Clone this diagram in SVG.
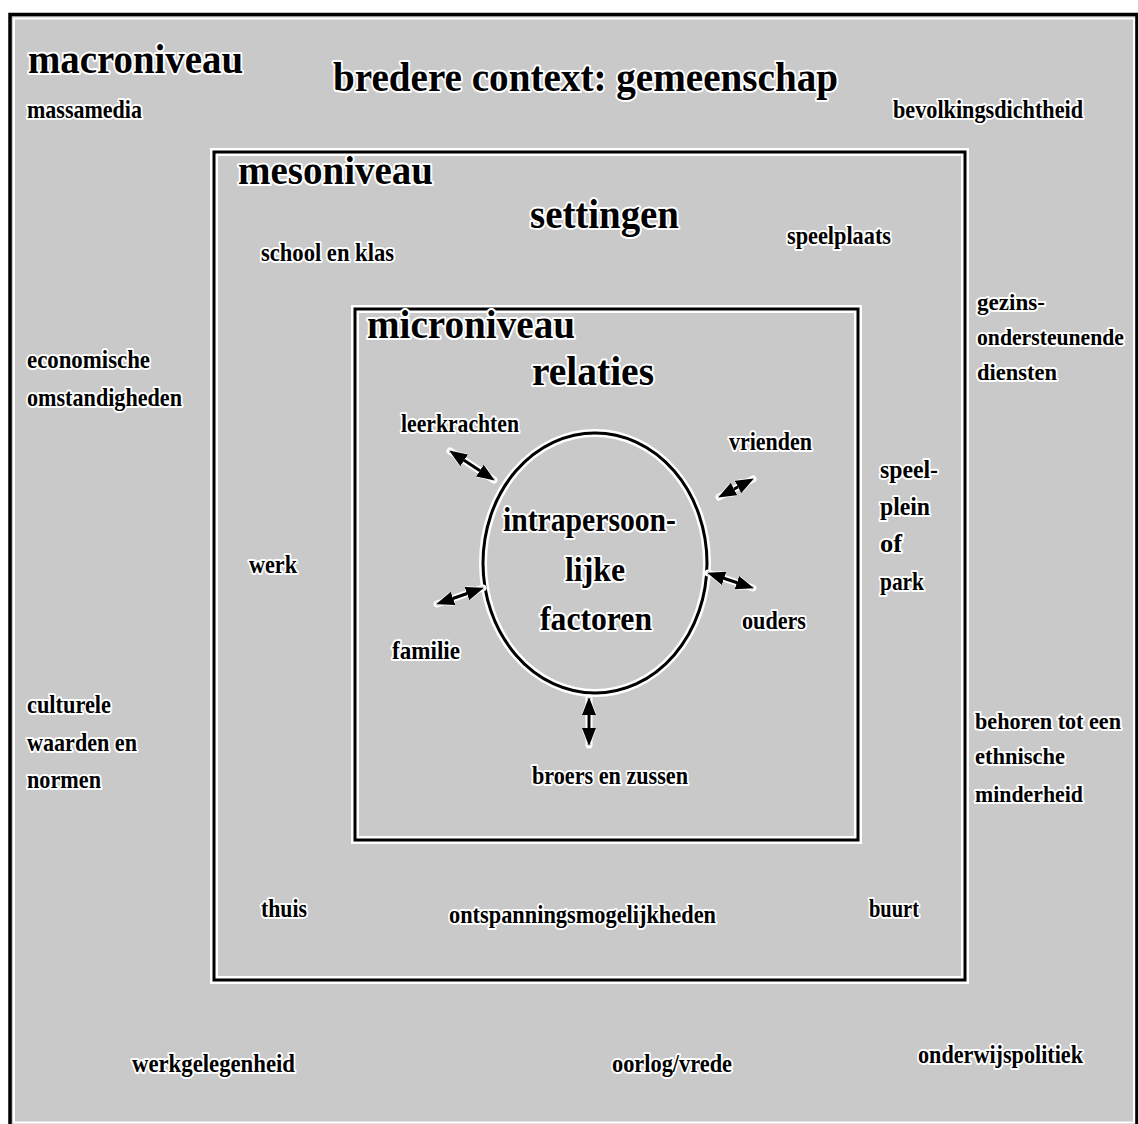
<svg xmlns="http://www.w3.org/2000/svg" width="1138" height="1124" viewBox="0 0 1138 1124">
<style>
text{font-family:"Liberation Serif","Times New Roman",serif;font-weight:bold;fill:#000;stroke:#fff;stroke-width:4;stroke-linejoin:round;paint-order:stroke}
.s{font-size:26px}
.r{font-size:23px}
.c{font-size:34px}
.m{font-size:40px}
.l{font-size:42px}
.frameW{fill:none;stroke:#fff;stroke-width:8}
.frameB{fill:none;stroke:#000;stroke-width:3}
.halo{stroke:#fff;stroke-width:7;stroke-linecap:round}
.arr{stroke:#000;stroke-width:3;marker-start:url(#ah);marker-end:url(#ah)}
</style>
<defs>
<marker id="ah" viewBox="0 0 18 14" refX="17" refY="7" markerWidth="18" markerHeight="14" markerUnits="userSpaceOnUse" orient="auto-start-reverse">
<path d="M0,0 L18,7 L0,14 z" fill="#000" stroke="#fff" stroke-width="1.5" paint-order="stroke"/>
</marker>
</defs>
<rect width="1138" height="1124" fill="#fff"/>
<g id="macro">
<rect x="10" y="14.5" width="1127" height="1112" fill="#c9c9c9" stroke="#000" stroke-width="3.5"/>
<rect x="14" y="18.5" width="1120" height="1104" fill="none" stroke="#fff" stroke-width="2"/>
<text class="l" x="28" y="73" textLength="215" lengthAdjust="spacingAndGlyphs">macroniveau</text>
<text class="l" x="333" y="91" textLength="505" lengthAdjust="spacingAndGlyphs">bredere context: gemeenschap</text>
<text class="s" x="27" y="118" textLength="115" lengthAdjust="spacingAndGlyphs">massamedia</text>
<text class="s" x="893" y="118" textLength="190" lengthAdjust="spacingAndGlyphs">bevolkingsdichtheid</text>
<text class="r" x="977" y="310" textLength="68" lengthAdjust="spacingAndGlyphs">gezins-</text>
<text class="r" x="977" y="345" textLength="147" lengthAdjust="spacingAndGlyphs">ondersteunende</text>
<text class="r" x="977" y="380" textLength="80" lengthAdjust="spacingAndGlyphs">diensten</text>
<text class="s" x="27" y="368" textLength="123" lengthAdjust="spacingAndGlyphs">economische</text>
<text class="s" x="27" y="406" textLength="155" lengthAdjust="spacingAndGlyphs">omstandigheden</text>
<text class="s" x="27" y="713" textLength="84" lengthAdjust="spacingAndGlyphs">culturele</text>
<text class="s" x="27" y="751" textLength="110" lengthAdjust="spacingAndGlyphs">waarden en</text>
<text class="s" x="27" y="788" textLength="74" lengthAdjust="spacingAndGlyphs">normen</text>
<text class="r" x="975" y="729" textLength="146" lengthAdjust="spacingAndGlyphs">behoren tot een</text>
<text class="r" x="975" y="764" textLength="90" lengthAdjust="spacingAndGlyphs">ethnische</text>
<text class="r" x="975" y="802" textLength="108" lengthAdjust="spacingAndGlyphs">minderheid</text>
<text class="s" x="132" y="1072" textLength="163" lengthAdjust="spacingAndGlyphs">werkgelegenheid</text>
<text class="s" x="612" y="1072" textLength="120" lengthAdjust="spacingAndGlyphs">oorlog/vrede</text>
<text class="s" x="918" y="1063" textLength="165" lengthAdjust="spacingAndGlyphs">onderwijspolitiek</text>
</g>
<g id="meso">
<rect class="frameW" x="214" y="152" width="751" height="828"/>
<rect class="frameB" x="214" y="152" width="751" height="828"/>
<text class="m" x="238" y="184" textLength="195" lengthAdjust="spacingAndGlyphs">mesoniveau</text>
<text class="l" x="530" y="228" textLength="149" lengthAdjust="spacingAndGlyphs">settingen</text>
<text class="s" x="261" y="261" textLength="133" lengthAdjust="spacingAndGlyphs">school en klas</text>
<text class="s" x="787" y="244" textLength="104" lengthAdjust="spacingAndGlyphs">speelplaats</text>
<text class="s" x="880" y="478" textLength="58" lengthAdjust="spacingAndGlyphs">speel-</text>
<text class="s" x="880" y="515" textLength="50" lengthAdjust="spacingAndGlyphs">plein</text>
<text class="s" x="880" y="552" textLength="22" lengthAdjust="spacingAndGlyphs">of</text>
<text class="s" x="880" y="590" textLength="44" lengthAdjust="spacingAndGlyphs">park</text>
<text class="s" x="249" y="573" textLength="48" lengthAdjust="spacingAndGlyphs">werk</text>
<text class="s" x="261" y="917" textLength="46" lengthAdjust="spacingAndGlyphs">thuis</text>
<text class="s" x="449" y="923" textLength="267" lengthAdjust="spacingAndGlyphs">ontspanningsmogelijkheden</text>
<text class="s" x="869" y="917" textLength="50" lengthAdjust="spacingAndGlyphs">buurt</text>
</g>
<g id="micro">
<rect class="frameW" x="355" y="309" width="503" height="531"/>
<rect class="frameB" x="355" y="309" width="503" height="531"/>
<text class="m" x="367" y="338" textLength="208" lengthAdjust="spacingAndGlyphs">microniveau</text>
<text class="l" x="532" y="385" textLength="122" lengthAdjust="spacingAndGlyphs">relaties</text>
<text class="s" x="401" y="432" textLength="118" lengthAdjust="spacingAndGlyphs">leerkrachten</text>
<text class="s" x="729" y="450" textLength="83" lengthAdjust="spacingAndGlyphs">vrienden</text>
<text class="s" x="742" y="629" textLength="64" lengthAdjust="spacingAndGlyphs">ouders</text>
<text class="s" x="392" y="659" textLength="68" lengthAdjust="spacingAndGlyphs">familie</text>
<text class="s" x="532" y="784" textLength="156" lengthAdjust="spacingAndGlyphs">broers en zussen</text>
</g>
<g id="intrapersoonlijk">
<ellipse cx="595" cy="563" rx="112" ry="130" fill="none" stroke="#fff" stroke-width="8"/>
<ellipse cx="595" cy="563" rx="112" ry="130" fill="none" stroke="#000" stroke-width="3"/>
<text class="c" x="503" y="531" textLength="173" lengthAdjust="spacingAndGlyphs">intrapersoon-</text>
<text class="c" x="565" y="581" textLength="60" lengthAdjust="spacingAndGlyphs">lijke</text>
<text class="c" x="540" y="630" textLength="112" lengthAdjust="spacingAndGlyphs">factoren</text>
</g>
<g id="connectors">
<line class="halo" x1="450" y1="451" x2="494" y2="480"/>
<line class="halo" x1="719" y1="497" x2="753" y2="479"/>
<line class="halo" x1="708" y1="573" x2="753" y2="588"/>
<line class="halo" x1="437" y1="604" x2="483" y2="588"/>
<line class="halo" x1="589" y1="698" x2="589" y2="745"/>
<line class="arr" x1="450" y1="451" x2="494" y2="480"/>
<line class="arr" x1="719" y1="497" x2="753" y2="479"/>
<line class="arr" x1="708" y1="573" x2="753" y2="588"/>
<line class="arr" x1="437" y1="604" x2="483" y2="588"/>
<line class="arr" x1="589" y1="698" x2="589" y2="745"/>
</g>
</svg>
